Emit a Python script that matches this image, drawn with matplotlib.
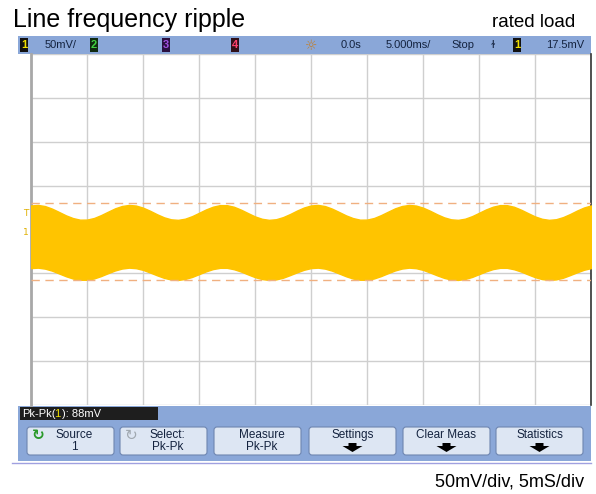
"""
Oscilloscope capture: line frequency ripple at rated load.
"""

import matplotlib
matplotlib.use("Agg")
import matplotlib.pyplot as plt
from matplotlib.patches import Rectangle, FancyBboxPatch, Polygon

# one ripple-and-a-bit of envelope readings (mV) every 0.625 ms; the screen shows 50 ms
env_top = [27.4, 28.0, 26.7, 23.8, 20.0, 16.1, 13.0, 11.2, 11.3, 13.1,
           16.4, 20.3, 24.1, 26.8, 28.0, 27.3, 24.9, 21.4, 17.4, 13.9,
           11.6, 11.0, 12.3, 15.2, 19.0, 22.9, 26.0, 27.8, 27.7, 25.9,
           22.6, 18.7, 14.9, 12.2, 11.0, 11.7, 14.1, 17.6, 21.6, 25.1]
env_bot = [-44.0, -43.5, -44.6, -46.9, -50.1, -53.3, -55.9, -57.3, -57.3, -55.8,
           -53.1, -49.8, -46.7, -44.5, -43.5, -44.1, -46.0, -49.0, -52.2, -55.1,
           -57.0, -57.5, -56.4, -54.1, -50.9, -47.7, -45.1, -43.7, -43.7, -45.3,
           -47.9, -51.2, -54.3, -56.5, -57.5, -56.9, -55.0, -52.0, -48.8, -45.9]
# the capture repeats the same 25 ms stretch twice
trace_top = env_top + env_top + env_top[:1]
trace_bot = env_bot + env_bot + env_bot[:1]
t_ms = [-25 + 0.625 * i for i in range(len(trace_top))]
cursor_levels = [30.2, -57.5]

title = "Line frequency ripple"
subtitle = "rated load"
footer = "50mV/div, 5mS/div"
status_items = [("50mV/", 45), ("0.0s", 341), ("5.000ms/", 386), ("Stop", 451), ("17.5mV", 546)]
channel_boxes = [("1", 20, "#111111", "#f0e000"), ("2", 90, "#0f2a10", "#40d040"),
                 ("3", 162, "#2a1040", "#a050e0"), ("4", 231, "#301018", "#ff4070"),
                 ("1", 513, "#111111", "#f0e000")]
softkeys = [("Source\n1", 27), ("Select:\nPk-Pk", 120), ("Measure\nPk-Pk", 214),
            ("Settings", 309), ("Clear Meas", 403), ("Statistics", 496)]

W, H = 596, 494
ARIAL = ["Liberation Sans", "DejaVu Sans"]
BAR = "#8aa7d8"
NAVY = "#14233f"

fig = plt.figure(figsize=(W / 100, H / 100), dpi=100)
fig.patch.set_facecolor("white")

# full-figure axes in pixel units for the scope chrome
ui = fig.add_axes([0, 0, 1, 1])
ui.set_xlim(0, W)
ui.set_ylim(H, 0)
ui.axis("off")

ui.text(13, 27, title, fontsize=18, family=ARIAL, va="baseline", ha="left")
ui.text(575, 27, subtitle, fontsize=13.5, family=ARIAL, va="baseline", ha="right")

# top status bar
ui.add_patch(Rectangle((18, 36), 573, 18, color=BAR, lw=0))
for lab, x0, bg, fg in channel_boxes:
    ui.add_patch(Rectangle((x0, 38), 8, 14, color=bg, lw=0))
    ui.text(x0 + 4, 45.5, lab, color=fg, fontsize=8, family=ARIAL,
            ha="center", va="center", fontweight="bold")
for lab, x0 in status_items:
    ui.text(x0, 45.5, lab, color=NAVY, fontsize=8, family=ARIAL, ha="left", va="center")
ui.text(311, 45.5, "\u263c", color="#c08030", fontsize=10, ha="center", va="center")
ui.text(493, 45.5, "\u026b", color=NAVY, fontsize=8, ha="center", va="center")
ui.add_patch(Polygon([[307, 55], [315, 55], [311, 60]], closed=True, color="#f08a20", lw=0))

# ground / trigger markers on the left edge
ui.text(26, 213, "T", color="#e0b000", fontsize=6.5, ha="center", va="center")
ui.text(26, 232, "1", color="#e0b000", fontsize=6.5, ha="center", va="center")

# measurement + softkey panel
ui.add_patch(Rectangle((18, 406), 573, 55, color=BAR, lw=0))
ui.add_patch(Rectangle((20, 407), 138, 13, color="#1e1e1e", lw=0))
ui.text(22, 413.5, "Pk-Pk(", color="white", fontsize=8, family=ARIAL, va="center")
ui.text(54.5, 413.5, "1", color="#f0e000", fontsize=8, family=ARIAL, va="center")
ui.text(62, 413.5, "): 88mV", color="white", fontsize=8, family=ARIAL, va="center")

for lab, x0 in softkeys:
    ui.add_patch(FancyBboxPatch((x0, 427), 87, 28, boxstyle="round,pad=0,rounding_size=3",
                                fc="#dde6f3", ec="#6f86b0", lw=0.8))
    cx = x0 + 43.5
    if "\n" in lab:
        ui.text(cx + 4, 441, lab, color=NAVY, fontsize=8.5, family=ARIAL,
                ha="center", va="center", linespacing=0.95)
    else:
        ui.text(cx, 435, lab, color=NAVY, fontsize=8.5, family=ARIAL, ha="center", va="center")
        ui.add_patch(Polygon([[cx - 4, 443], [cx + 4, 443], [cx + 4, 446], [cx + 10, 446],
                              [cx, 452], [cx - 10, 446], [cx - 4, 446]],
                             closed=True, color="black", lw=0))
ui.text(38, 435, "\u21bb", color="#2a9a2a", fontsize=11, fontweight="bold", ha="center", va="center")
ui.text(131, 435, "\u21bb", color="#a0a8b0", fontsize=11, ha="center", va="center")

ui.plot([12, 591], [463, 463], color="#a0a0e0", lw=1)
ui.text(584, 482, footer, fontsize=13, family=ARIAL, ha="right", va="center")

# scope graticule: 10 x 5 ms, 8 x 50 mV
ax = fig.add_axes([31 / W, (H - 405) / H, 560 / W, 351 / H])
ax.set_xlim(-25, 25)
ax.set_ylim(-200, 200)
ax.set_xticks(range(-25, 26, 5))
ax.set_yticks(range(-200, 201, 50))
ax.grid(True, color="#cfcfcf", lw=1)
ax.tick_params(length=0, labelleft=False, labelbottom=False)
for side in ["top", "bottom"]:
    ax.spines[side].set_visible(False)
ax.spines["left"].set_color("#a8a8a8")
ax.spines["left"].set_linewidth(2)
ax.spines["right"].set_color("#333333")
ax.spines["right"].set_linewidth(1.2)

ax.fill_between(t_ms, trace_bot, trace_top, color="#ffc400", lw=1, ec="#ffc400", zorder=3)
for lvl in cursor_levels:
    ax.axhline(lvl, color="#f0b080", lw=1, dashes=(6, 4), zorder=4)

fig.savefig("out.png", dpi=100)
